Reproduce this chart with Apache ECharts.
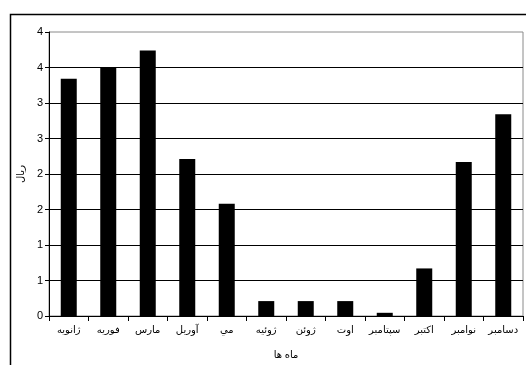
<!DOCTYPE html>
<html>
<head>
<meta charset="utf-8">
<script src="https://cdn.jsdelivr.net/npm/echarts@6/dist/echarts.min.js"></script>
<style>
html,body{margin:0;padding:0;background:#fff;}
#c{width:526px;height:365px;}
</style>
</head>
<body>
<div id="c"></div>
<script>
const categories = ['ژانویه','فوریه','مارس','آوریل','مي','ژوئیه','ژوئن','اوت','سپتامبر','اکتبر','نوامبر','دسامبر'];
const values = [3.34, 3.5, 3.74, 2.21, 1.58, 0.21, 0.21, 0.21, 0.045, 0.67, 2.17, 2.84];
const yTickLabels = ['0','1','1','2','2','3','3','4','4'];
const xAxisTitle = 'ماه ها';
const yAxisTitle = 'ریال';

const chart = echarts.init(document.getElementById('c'), null, {renderer:'canvas'});
const FONT = '"Liberation Sans", Arial, "DejaVu Sans", sans-serif';
chart.setOption({
  animation: false,
  backgroundColor: '#fff',
  graphic: [{
    type: 'rect', left: 8, top: 12, silent: true,
    shape: {width: 530, height: 360},
    style: {fill: 'none', stroke: '#000', lineWidth: 1.5}
  }],
  grid: {left: 49, right: 3, top: 32, bottom: 48.5, show: true, borderColor: '#8a8a8a', borderWidth: 1, backgroundColor: 'transparent'},
  xAxis: {
    type: 'category', data: categories,
    name: xAxisTitle, nameLocation: 'middle', nameGap: 34,
    nameTextStyle: {fontFamily: FONT, fontSize: 10, color: '#000'},
    axisLine: {lineStyle: {color: '#000', width: 1}},
    axisTick: {show: true, alignWithLabel: false, length: 5, lineStyle: {color: '#000'}},
    axisLabel: {fontFamily: FONT, fontSize: 10, color: '#000', margin: 9, interval: 0}
  },
  yAxis: {
    type: 'value', min: 0, max: 4, interval: 0.5,
    name: yAxisTitle, nameLocation: 'middle', nameGap: 23, nameRotate: 90,
    nameTextStyle: {fontFamily: FONT, fontSize: 10, color: '#000'},
    axisLine: {show: true, lineStyle: {color: '#000', width: 1}},
    axisTick: {show: true, length: 4, lineStyle: {color: '#000'}},
    axisLabel: {fontFamily: FONT, fontSize: 11, color: '#000', margin: 6,
      formatter: function(v){ return yTickLabels[Math.round(v / 0.5)]; }},
    splitLine: {show: true, showMaxLine: false, lineStyle: {color: '#000', width: 1}}
  },
  series: [{
    type: 'bar', data: values, barWidth: 16,
    itemStyle: {color: '#000'}
  }]
});
</script>
</body>
</html>
